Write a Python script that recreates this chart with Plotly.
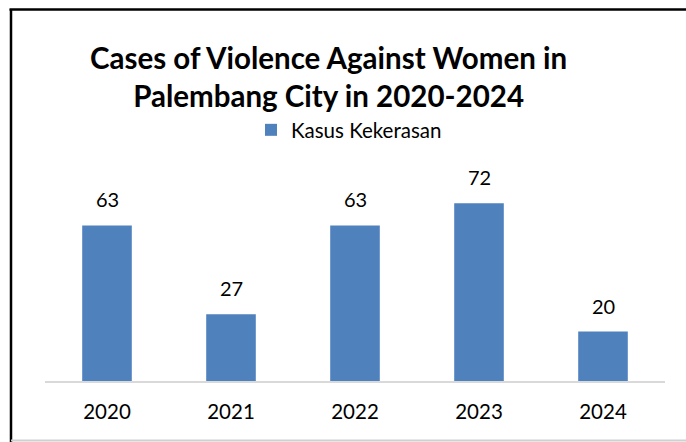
import plotly.graph_objects as go

years = ["2020", "2021", "2022", "2023", "2024"]
cases = [63, 27, 63, 72, 20]
series_name = "Kasus Kekerasan"
title_text = "Cases of Violence Against Women in<br>Palembang City in 2020-2024"

W, H = 686, 442
L, R, T, B = 45, 21, 150, 61
plot_w = W - L - R
plot_h = H - T - B
ymax = plot_h / 2.47

def px_x(px):
    return (px - L) / plot_w

def px_y(py):
    return (H - B - py) / plot_h

FONT = "Lato"

fig = go.Figure()
fig.add_trace(go.Bar(
    x=years, y=cases, name=series_name,
    marker=dict(color="#4F81BD", line=dict(width=0)),
))

for i, v in enumerate(cases):
    fig.add_annotation(x=i, y=v, text=str(v), showarrow=False, yanchor="bottom",
                       yshift=12, font=dict(size=20, family=FONT, color="#000000"))

fig.update_layout(
    width=W, height=H,
    margin=dict(l=L, r=R, t=T, b=B),
    paper_bgcolor="white", plot_bgcolor="white",
    bargap=0.6,
    showlegend=True,
    legend=dict(orientation="h", x=px_x(349), xanchor="center", y=px_y(130), yanchor="middle",
                font=dict(size=20.5, family=FONT, color="#000000"),
                itemwidth=30, bgcolor="rgba(0,0,0,0)"),
    xaxis=dict(type="category", range=[-0.5, len(years) - 0.5], showgrid=False, showline=True,
               linecolor="#D9D9D9", linewidth=1.5,
               ticks="", tickfont=dict(size=20.5, family=FONT, color="#000000"), ticklabelstandoff=12),
    yaxis=dict(range=[0, ymax], visible=False),
)

fig.add_annotation(text="<b>" + title_text + "</b>", xref="paper", yref="paper",
                   x=px_x(328), y=px_y(77), xanchor="center", yanchor="middle",
                   showarrow=False, font=dict(size=29.5, family=FONT, color="#000000"))

fig.add_shape(type="line", xref="paper", yref="paper", x0=px_x(9.5), x1=px_x(686),
              y0=px_y(9.5), y1=px_y(9.5), line=dict(color="#000000", width=2.5))
fig.add_shape(type="line", xref="paper", yref="paper", x0=px_x(11), x1=px_x(11),
              y0=px_y(9), y1=px_y(442), line=dict(color="#000000", width=2.5))
fig.add_shape(type="line", xref="paper", yref="paper", x0=px_x(11), x1=px_x(686),
              y0=px_y(440.5), y1=px_y(440.5), line=dict(color="#D0D0D0", width=2))

fig.write_html("out.html", config={"displayModeBar": False},
               post_script=("document.documentElement.style.overflow='hidden';"
                            "document.body.style.margin='0';document.body.style.overflow='hidden';"))
